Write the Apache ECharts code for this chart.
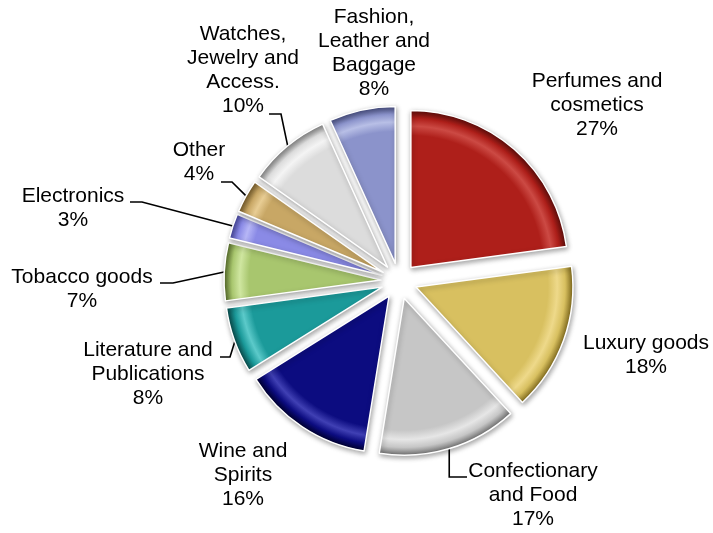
<!DOCTYPE html>
<html>
<head>
<meta charset="utf-8">
<script src="https://cdn.jsdelivr.net/npm/echarts@6/dist/echarts.min.js"></script>
<style>
  html, body { margin: 0; padding: 0; background: #ffffff; }
  #chart { width: 713px; height: 533px; }
</style>
</head>
<body>
<div id="chart"></div>
<script>
// Sales share by product category (labels state the share in %)
const categories = [
  'Perfumes and\ncosmetics',
  'Luxury goods',
  'Confectionary\nand Food',
  'Wine and\nSpirits',
  'Literature and\nPublications',
  'Tobacco goods',
  'Electronics',
  'Other',
  'Watches,\nJewelry and\nAccess.',
  'Fashion,\nLeather and\nBaggage'
];
const shares = [27, 18, 17, 16, 8, 7, 3, 4, 10, 8];

// Slice colours: face, highlight rim, shadow rim
const faceColors  = ['#ae1f1a', '#d8c060', '#c6c6c6', '#0c0c80', '#1b9a9a', '#a8c66e', '#8a8ae6', '#c8a765', '#dcdcdc', '#8b93cb'];
const lightColors = ['#cc4a44', '#eed98a', '#e6e6e6', '#4040b4', '#5ccaca', '#cfe6a0', '#b6b6f6', '#e8cd94', '#f4f4f4', '#b8bfe6'];
const darkColors  = ['#5e0d0a', '#806a1c', '#707070', '#00002e', '#084848', '#566c2a', '#45459c', '#745a28', '#858585', '#454b7c'];

// Pie geometry
const CX = 399, CY = 281, R = 157, EXPLODE = 18;

// Label placement: text centre and optional leader line (hook point on the text side, elbow x)
const labelPlacement = [
  { x: 597, y: 105 },
  { x: 646, y: 355 },
  { x: 533, y: 495, hook: [467, 477], elbowX: null },
  { x: 243, y: 475 },
  { x: 148, y: 374, hook: [220, 357], elbowX: 230 },
  { x: 82,  y: 289, hook: [160, 283], elbowX: 173 },
  { x: 73,  y: 208, hook: [130, 202], elbowX: 142 },
  { x: 199, y: 162, hook: [221, 182], elbowX: 232 },
  { x: 243, y: 70,  hook: [269, 114], elbowX: 281 },
  { x: 374, y: 53 }
];

function sliceStyle(i) {
  return {
    color: {
      type: 'radial', x: CX, y: CY, r: R, global: true,
      colorStops: [
        { offset: 0,    color: faceColors[i] },
        { offset: 0.84, color: faceColors[i] },
        { offset: 0.9,  color: lightColors[i] },
        { offset: 0.95, color: faceColors[i] },
        { offset: 1,    color: darkColors[i] }
      ]
    },
    borderColor: '#ffffff',
    borderWidth: 1.5,
    shadowBlur: 5,
    shadowOffsetX: 1,
    shadowOffsetY: 2,
    shadowColor: 'rgba(0,0,0,0.35)'
  };
}

const sliceData = shares.map((v, i) => ({
  name: categories[i],
  value: v,
  selected: true,
  itemStyle: sliceStyle(i)
}));

const labelData = shares.map((v, i) => ({
  name: categories[i],
  value: v,
  labelLine: { show: !!labelPlacement[i].hook }
}));

const chart = echarts.init(document.getElementById('chart'), null, { renderer: 'canvas' });

chart.setOption({
  animation: false,
  backgroundColor: '#ffffff',
  series: [
    {
      type: 'pie',
      center: [CX, CY],
      radius: R,
      startAngle: 90,
      clockwise: true,
      selectedMode: 'multiple',
      selectedOffset: EXPLODE,
      silent: true,
      emphasis: { disabled: true },
      label: { show: false },
      labelLine: { show: false },
      data: sliceData
    },
    {
      // Transparent twin carrying the category labels and leader lines
      type: 'pie',
      center: [CX, CY],
      radius: R,
      startAngle: 90,
      clockwise: true,
      silent: true,
      emphasis: { disabled: true },
      itemStyle: { color: 'rgba(0,0,0,0)' },
      label: {
        show: true,
        position: 'outside',
        alignTo: 'none',
        overflow: 'none',
        formatter: p => p.name + '\n' + p.value + '%',
        color: '#000000',
        fontFamily: 'Liberation Sans, Arial, sans-serif',
        fontSize: 21,
        lineHeight: 24
      },
      labelLine: {
        show: true,
        lineStyle: { color: '#000000', width: 1.6 }
      },
      labelLayout: function (params) {
        const pl = labelPlacement[params.dataIndex];
        const out = { x: pl.x, y: pl.y, align: 'center', verticalAlign: 'middle', width: 200 };
        if (pl.hook && params.labelLinePoints) {
          const p0 = params.labelLinePoints[0];
          const dx = p0[0] - CX, dy = p0[1] - CY;
          const len = Math.sqrt(dx * dx + dy * dy) || 1;
          const ax = CX + dx / len * (R + EXPLODE - 1);
          const ay = CY + dy / len * (R + EXPLODE - 1);
          const ex = pl.elbowX == null ? ax : pl.elbowX;
          out.labelLinePoints = [[ax, ay], [ex, pl.hook[1]], [pl.hook[0], pl.hook[1]]];
        }
        return out;
      },
      data: labelData
    }
  ]
});
</script>
</body>
</html>
